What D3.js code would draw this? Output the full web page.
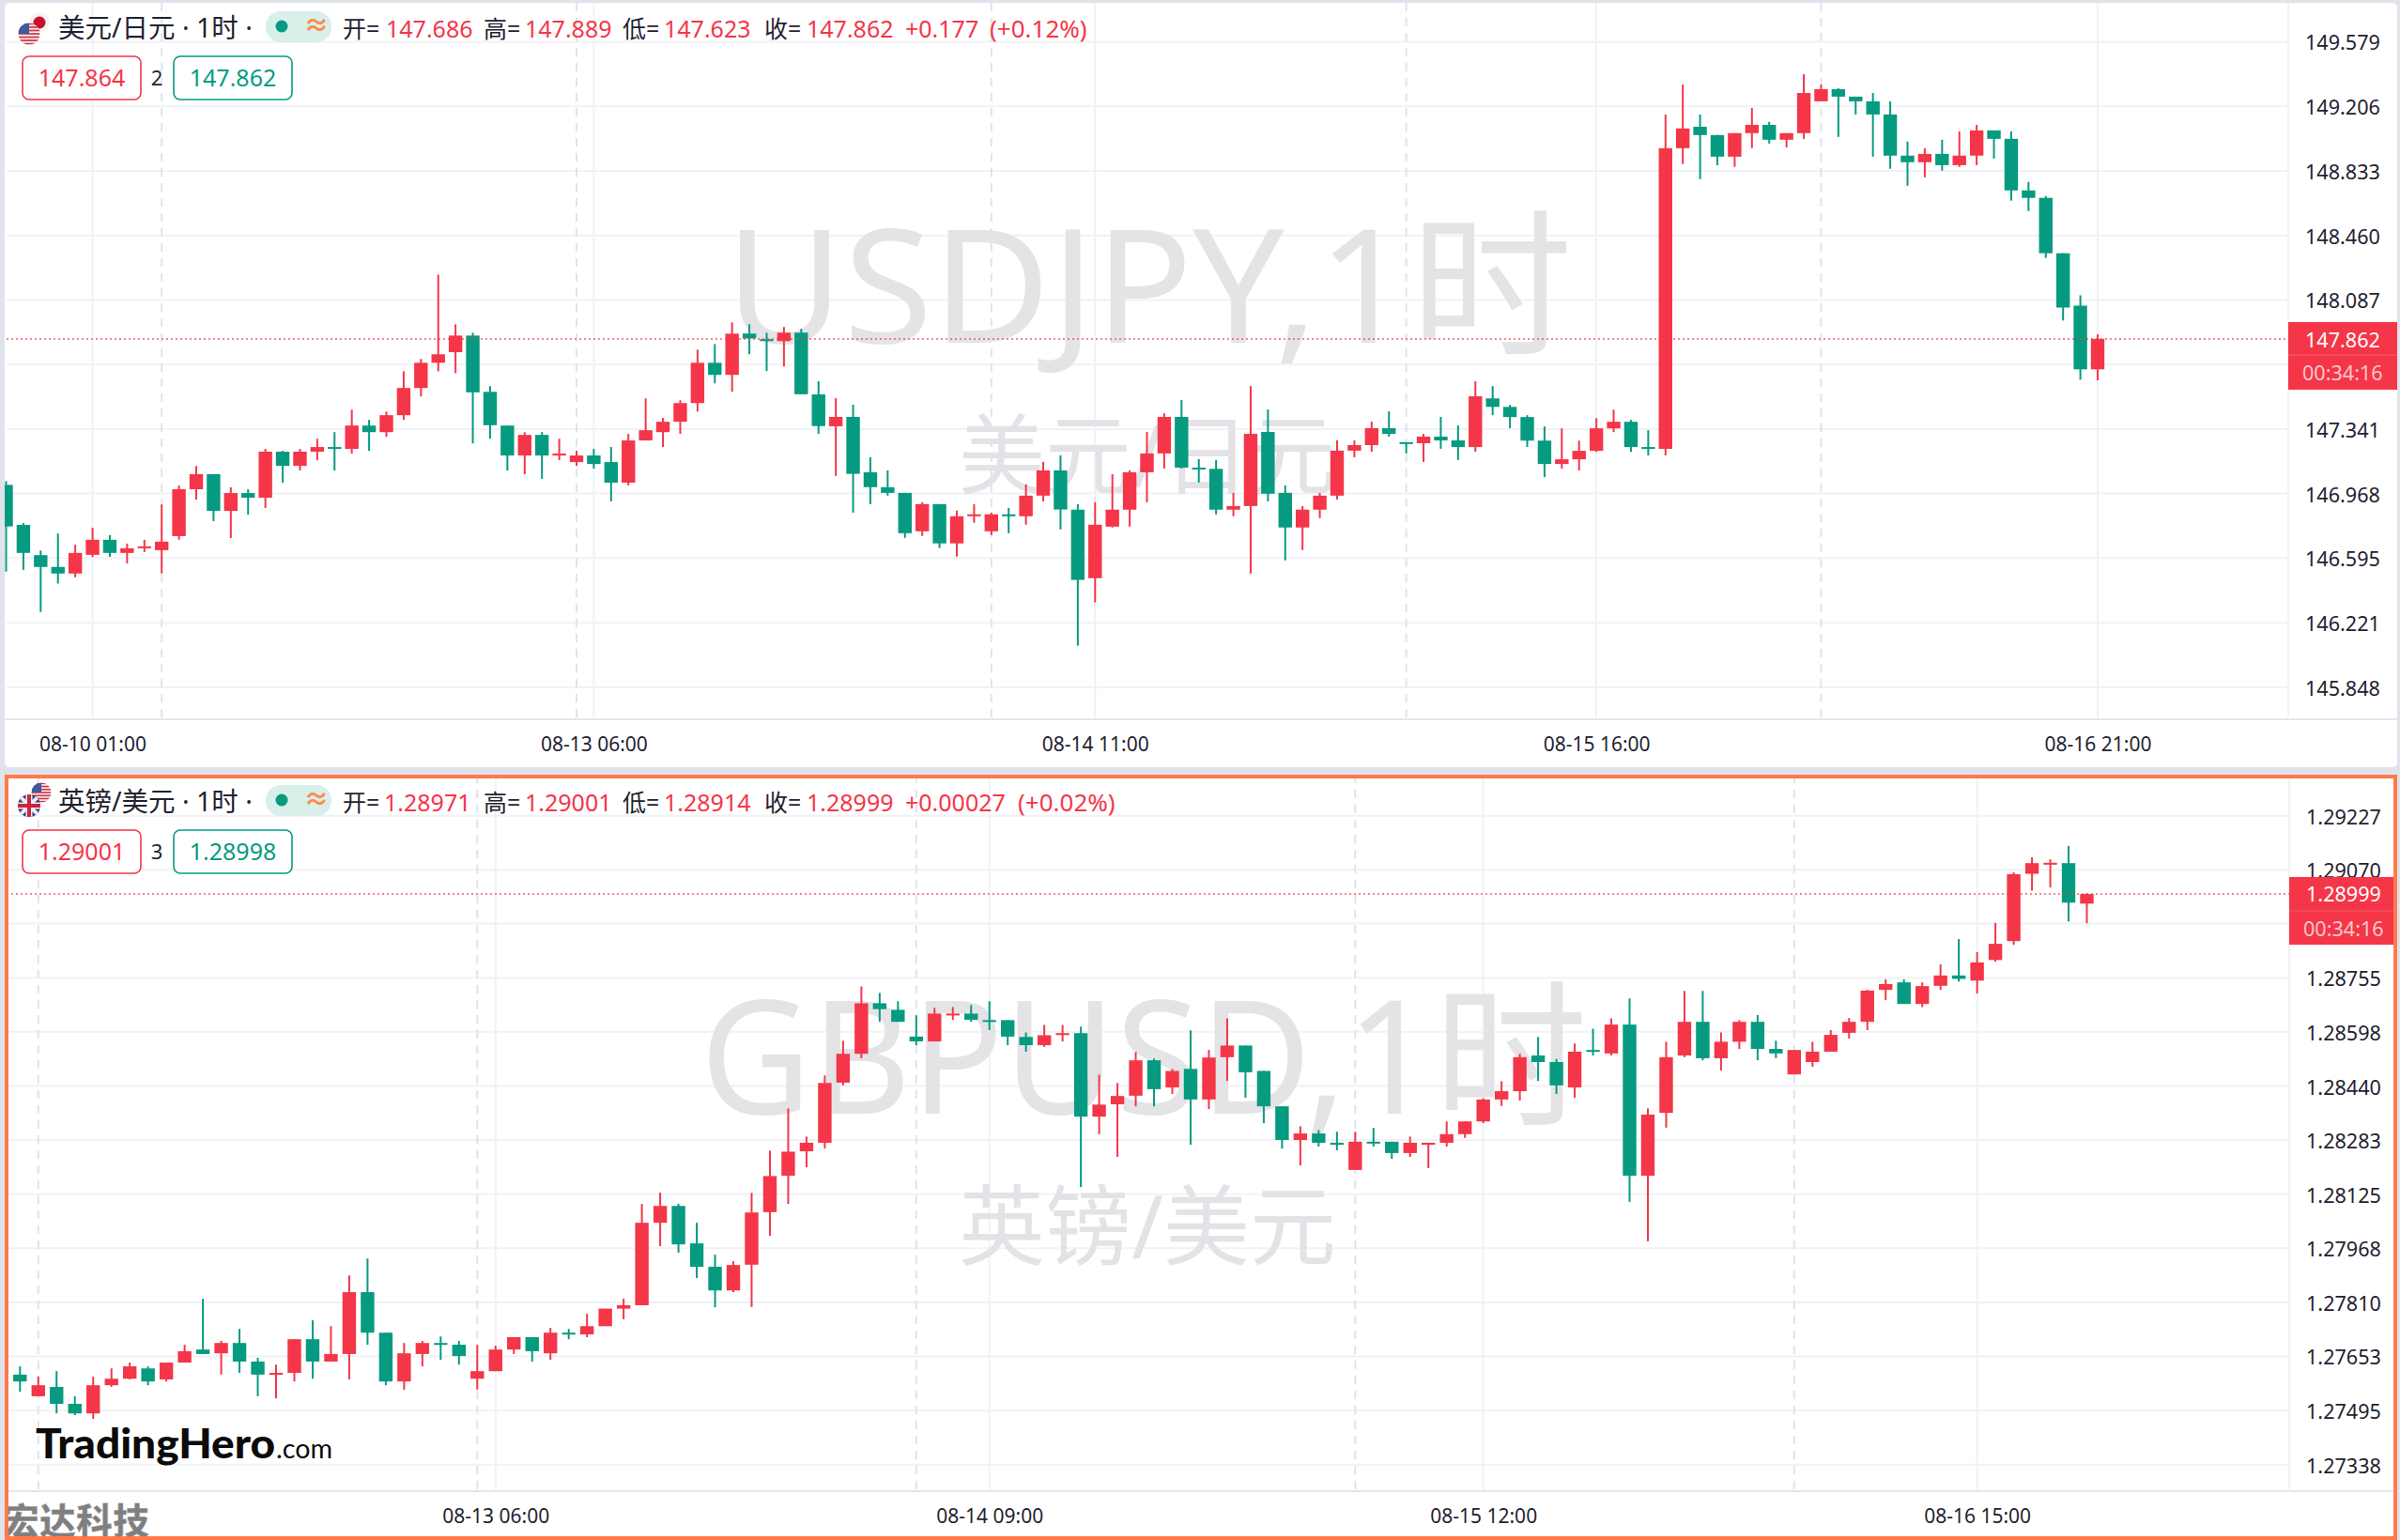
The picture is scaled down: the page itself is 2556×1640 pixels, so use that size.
<!DOCTYPE html>
<html><head><meta charset="utf-8">
<script src="https://cdn.jsdelivr.net/npm/d3@7/dist/d3.min.js"></script>
<style>
html,body{margin:0;padding:0;background:#e0e3eb;}
svg{display:block;font-family:"Noto Sans","Noto Sans CJK SC",sans-serif;}
.tick line,.domain{display:none;}
</style></head><body>
<svg id="c" width="2556" height="1640"></svg>
<script>
// ---------- USD/JPY, 1 hour ----------
const jpyOpen=[147.018,146.787,146.612,146.544,146.506,146.614,146.701,146.625,146.652,146.641,146.722,146.993,147.080,146.868,146.971,146.944,147.210,147.128,147.210,147.237,147.226,147.361,147.323,147.421,147.578,147.724,147.785,147.881,147.556,147.361,147.188,147.307,147.188,147.150,147.188,147.150,147.031,147.275,147.323,147.383,147.491,147.724,147.654,147.893,147.860,147.849,147.898,147.541,147.357,147.411,147.091,147.005,146.972,146.750,146.907,146.680,146.837,146.750,146.848,146.837,146.956,147.102,146.875,146.479,146.777,146.875,147.091,147.200,147.411,147.118,147.111,146.875,146.896,147.324,146.972,146.772,146.875,146.956,147.216,147.248,147.346,147.265,147.259,147.297,147.275,147.237,147.518,147.469,147.410,147.274,147.139,147.166,147.215,147.345,147.383,147.237,147.226,148.964,149.088,149.040,148.915,149.051,149.099,149.013,149.051,149.235,149.305,149.262,149.235,149.159,148.921,148.883,148.931,148.866,148.921,149.067,149.018,148.720,148.677,148.357,148.054,147.686];
const jpyHigh=[147.040,146.798,146.639,146.737,146.672,146.771,146.728,146.679,146.701,146.905,147.015,147.128,147.080,147.004,146.993,147.226,147.215,147.226,147.285,147.323,147.453,147.394,147.442,147.675,147.746,148.233,147.946,147.897,147.589,147.361,147.323,147.323,147.285,147.215,147.226,147.237,147.313,147.518,147.405,147.507,147.800,147.832,147.957,147.947,147.898,147.931,147.920,147.617,147.519,147.481,147.178,147.102,146.972,146.918,146.907,146.869,146.907,146.858,146.885,147.021,147.151,147.189,146.907,146.918,147.080,147.102,147.324,147.432,147.508,147.167,147.162,146.972,147.589,147.454,147.015,146.896,146.972,147.275,147.275,147.384,147.443,147.265,147.313,147.411,147.362,147.617,147.589,147.480,147.421,147.356,147.345,147.274,147.404,147.453,147.394,147.334,149.159,149.332,149.159,149.040,149.051,149.197,149.116,149.051,149.392,149.332,149.310,149.262,149.283,149.235,149.002,148.964,149.013,149.061,149.099,149.067,149.061,148.769,148.688,148.357,148.114,147.889];
const jpyLow=[146.517,146.527,146.284,146.448,146.484,146.601,146.603,146.565,146.630,146.506,146.701,146.933,146.809,146.711,146.847,146.885,147.031,147.101,147.161,147.101,147.199,147.215,147.296,147.394,147.529,147.675,147.664,147.258,147.285,147.101,147.080,147.053,147.161,147.128,147.112,146.923,147.015,147.275,147.237,147.313,147.442,147.605,147.556,147.774,147.676,147.703,147.542,147.313,147.070,146.858,146.907,146.956,146.712,146.723,146.653,146.604,146.799,146.728,146.739,146.788,146.923,146.761,146.089,146.339,146.772,146.777,146.918,147.113,147.113,147.032,146.848,146.837,146.506,146.923,146.582,146.642,146.826,146.934,147.178,147.210,147.297,147.200,147.151,147.227,147.162,147.210,147.421,147.345,147.237,147.063,147.112,147.101,147.209,147.323,147.209,147.188,147.188,148.872,148.785,148.866,148.856,148.964,148.991,148.969,149.018,149.235,149.029,149.159,148.915,148.845,148.747,148.796,148.834,148.856,148.866,148.904,148.661,148.601,148.330,147.968,147.626,147.623];
const jpyClose=[146.778,146.625,146.544,146.506,146.625,146.701,146.625,146.652,146.663,146.690,146.993,147.080,146.868,146.971,146.944,147.210,147.128,147.210,147.237,147.226,147.361,147.323,147.421,147.578,147.724,147.773,147.881,147.553,147.363,147.188,147.307,147.188,147.199,147.188,147.139,147.031,147.275,147.334,147.383,147.491,147.724,147.654,147.892,147.864,147.853,147.898,147.542,147.358,147.411,147.082,147.005,146.972,146.739,146.907,146.680,146.837,146.848,146.848,146.837,146.956,147.102,146.876,146.469,146.788,146.875,147.091,147.200,147.411,147.118,147.113,146.875,146.896,147.313,146.967,146.772,146.875,146.956,147.216,147.248,147.346,147.313,147.259,147.297,147.275,147.237,147.530,147.469,147.410,147.274,147.139,147.166,147.215,147.345,147.383,147.237,147.226,148.964,149.078,149.040,148.915,149.051,149.099,149.013,149.051,149.283,149.305,149.262,149.235,149.159,148.921,148.883,148.931,148.866,148.921,149.067,149.018,148.720,148.677,148.357,148.043,147.686,147.862];
const jpyPriceTicks=[149.579,149.206,148.833,148.460,148.087,147.714,147.341,146.968,146.595,146.221,145.848];
const jpyTimeIndex=[5,34,63,92,121];
const jpyTimeLabels=["08-10 01:00","08-13 06:00","08-14 11:00","08-15 16:00","08-16 21:00"];
const jpyDaySeparators=[9,33,57,81,105];
const jpyLastPrice=147.862;

// ---------- GBP/USD, 1 hour ----------
const gbpOpen=[1.27600,1.27537,1.27564,1.27515,1.27487,1.27569,1.27588,1.27618,1.27586,1.27635,1.27673,1.27662,1.27692,1.27638,1.27600,1.27605,1.27703,1.27638,1.27660,1.27840,1.27722,1.27580,1.27660,1.27692,1.27687,1.27588,1.27610,1.27673,1.27709,1.27662,1.27722,1.27717,1.27741,1.27792,1.27802,1.28042,1.28091,1.27982,1.27914,1.27845,1.27920,1.28073,1.28179,1.28250,1.28275,1.28450,1.28534,1.28681,1.28662,1.28584,1.28570,1.28647,1.28651,1.28632,1.28632,1.28583,1.28559,1.28589,1.28594,1.28351,1.28387,1.28412,1.28515,1.28436,1.28490,1.28401,1.28524,1.28558,1.28484,1.28381,1.28283,1.28302,1.28275,1.28196,1.28278,1.28278,1.28245,1.28269,1.28275,1.28300,1.28337,1.28401,1.28425,1.28529,1.28510,1.28436,1.28545,1.28535,1.28619,1.28179,1.28362,1.28529,1.28627,1.28521,1.28569,1.28627,1.28548,1.28474,1.28510,1.28540,1.28595,1.28627,1.28720,1.28742,1.28679,1.28732,1.28762,1.28747,1.28807,1.28862,1.29058,1.29088,1.29089,1.28971];
const gbpHigh=[1.27624,1.27594,1.27610,1.27537,1.27594,1.27618,1.27635,1.27624,1.27635,1.27687,1.27821,1.27698,1.27733,1.27649,1.27629,1.27703,1.27758,1.27741,1.27889,1.27938,1.27722,1.27692,1.27698,1.27711,1.27698,1.27687,1.27684,1.27709,1.27709,1.27736,1.27733,1.27777,1.27792,1.27821,1.28097,1.28130,1.28097,1.28042,1.27949,1.27930,1.28129,1.28252,1.28375,1.28293,1.28471,1.28572,1.28730,1.28711,1.28687,1.28646,1.28668,1.28670,1.28676,1.28687,1.28632,1.28596,1.28618,1.28618,1.28613,1.28473,1.28449,1.28539,1.28520,1.28490,1.28602,1.28545,1.28637,1.28558,1.28484,1.28381,1.28323,1.28312,1.28307,1.28307,1.28318,1.28278,1.28293,1.28275,1.28337,1.28337,1.28405,1.28454,1.28534,1.28583,1.28519,1.28564,1.28607,1.28637,1.28695,1.28375,1.28569,1.28717,1.28717,1.28596,1.28632,1.28647,1.28572,1.28545,1.28569,1.28603,1.28638,1.28720,1.28751,1.28751,1.28742,1.28794,1.28868,1.28830,1.28915,1.29062,1.29106,1.29100,1.29139,1.29001];
const gbpLow=[1.27550,1.27537,1.27487,1.27482,1.27471,1.27564,1.27586,1.27569,1.27580,1.27635,1.27660,1.27600,1.27605,1.27537,1.27531,1.27580,1.27588,1.27638,1.27586,1.27687,1.27569,1.27556,1.27624,1.27643,1.27629,1.27556,1.27610,1.27660,1.27638,1.27643,1.27703,1.27709,1.27741,1.27761,1.27802,1.27974,1.27955,1.27881,1.27796,1.27840,1.27797,1.28004,1.28097,1.28204,1.28258,1.28442,1.28521,1.28627,1.28627,1.28559,1.28570,1.28633,1.28627,1.28603,1.28559,1.28540,1.28554,1.28570,1.28146,1.28300,1.28234,1.28381,1.28381,1.28417,1.28269,1.28373,1.28455,1.28406,1.28332,1.28258,1.28209,1.28264,1.28253,1.28196,1.28264,1.28228,1.28234,1.28201,1.28264,1.28289,1.28332,1.28382,1.28398,1.28455,1.28417,1.28406,1.28529,1.28529,1.28103,1.27988,1.28319,1.28524,1.28515,1.28485,1.28548,1.28515,1.28521,1.28474,1.28496,1.28540,1.28578,1.28603,1.28690,1.28679,1.28670,1.28720,1.28744,1.28709,1.28802,1.28851,1.29009,1.29018,1.28919,1.28914];
const gbpClose=[1.27580,1.27569,1.27515,1.27487,1.27569,1.27588,1.27624,1.27580,1.27635,1.27668,1.27660,1.27692,1.27638,1.27600,1.27605,1.27703,1.27638,1.27660,1.27840,1.27722,1.27580,1.27662,1.27692,1.27687,1.27654,1.27610,1.27673,1.27709,1.27668,1.27722,1.27717,1.27741,1.27792,1.27802,1.28042,1.28091,1.27979,1.27914,1.27845,1.27919,1.28072,1.28178,1.28249,1.28275,1.28449,1.28534,1.28681,1.28664,1.28627,1.28570,1.28651,1.28651,1.28633,1.28628,1.28584,1.28559,1.28588,1.28594,1.28351,1.28386,1.28411,1.28515,1.28431,1.28484,1.28401,1.28523,1.28558,1.28480,1.28381,1.28283,1.28302,1.28275,1.28269,1.28278,1.28275,1.28245,1.28275,1.28275,1.28300,1.28337,1.28401,1.28425,1.28524,1.28510,1.28442,1.28540,1.28540,1.28619,1.28179,1.28357,1.28524,1.28627,1.28521,1.28569,1.28627,1.28548,1.28535,1.28545,1.28540,1.28589,1.28627,1.28718,1.28737,1.28679,1.28731,1.28762,1.28752,1.28800,1.28854,1.29057,1.29089,1.29090,1.28974,1.28999];
const gbpPriceTicks=[1.29227,1.29070,1.28913,1.28755,1.28598,1.28440,1.28283,1.28125,1.27968,1.27810,1.27653,1.27495,1.27338];
const gbpTimeIndex=[26,53,80,107];
const gbpTimeLabels=["08-13 06:00","08-14 09:00","08-15 12:00","08-16 15:00"];
const gbpDaySeparators=[1,25,49,73,97];
const gbpLastPrice=1.28999;

const RED="#f43648", GREEN="#069b80", INK="#1f2330";
const svg=d3.select("#c");
const defs=svg.append("defs");

function panel(o,id){
  const g=svg.append("g");
  const bars=o.open.map((v,i)=>({i,o:v,h:o.high[i],l:o.low[i],c:o.close[i]}));
  const x=d3.scaleLinear().domain([0,bars.length-1]).range(o.xRange);
  const y=d3.scaleLinear().domain(d3.extent(o.priceTicks)).range(o.yRange);
  g.append("rect").attr("x",o.box[0]).attr("y",o.box[1]).attr("width",o.box[2]).attr("height",o.box[3]).attr("fill","#fff").attr("rx",5);
  g.selectAll(".hg").data(o.priceTicks).join("line").attr("x1",o.box[0]+2).attr("x2",o.axisX)
    .attr("y1",d=>y(d)).attr("y2",d=>y(d)).attr("stroke","#f1f2f6").attr("stroke-width",2);
  g.selectAll(".vg").data(o.timeIndex).join("line").attr("x1",d=>x(d)).attr("x2",d=>x(d))
    .attr("y1",o.box[1]).attr("y2",o.timeY).attr("stroke","#f1f2f6").attr("stroke-width",2);
  g.selectAll(".dg").data(o.daySeps).join("line").attr("x1",d=>x(d)).attr("x2",d=>x(d))
    .attr("y1",o.box[1]).attr("y2",o.timeY).attr("stroke","#e1e3ec").attr("stroke-width",2).attr("stroke-dasharray","9 7");
  g.append("text").text(o.mark1).attr("x",o.mark1x).attr("y",o.mark1y).attr("text-anchor","middle")
    .attr("font-size",168).attr("fill","#e4e4e7").attr("textLength",o.mark1w).attr("lengthAdjust","spacingAndGlyphs");
  g.append("text").text(o.mark2).attr("x",1222).attr("y",o.mark2y).attr("text-anchor","middle")
    .attr("font-size",93).attr("fill","#e3e3e7").attr("textLength",402).attr("lengthAdjust","spacingAndGlyphs");
  g.append("line").attr("x1",o.box[0]).attr("x2",o.box[0]+o.box[2]).attr("y1",o.timeY).attr("y2",o.timeY).attr("stroke","#e4e6ed").attr("stroke-width",2);
  g.append("line").attr("x1",o.axisX).attr("x2",o.axisX).attr("y1",o.box[1]).attr("y2",o.timeY).attr("stroke","#f1f2f6").attr("stroke-width",2);
  defs.append("clipPath").attr("id",id).append("rect").attr("x",o.box[0]).attr("y",o.box[1]).attr("width",o.axisX-o.box[0]).attr("height",o.timeY-o.box[1]);
  const col=d=>d.c>=d.o?RED:GREEN;
  const cg=g.append("g").attr("clip-path",`url(#${id})`);
  cg.selectAll(".w").data(bars).join("line").attr("x1",d=>x(d.i)).attr("x2",d=>x(d.i))
    .attr("y1",d=>y(d.h)).attr("y2",d=>y(d.l)).attr("stroke",col).attr("stroke-width",2);
  cg.selectAll(".b").data(bars).join("rect").attr("x",d=>x(d.i)-7.2).attr("width",14.4)
    .attr("y",d=>y(Math.max(d.o,d.c))).attr("height",d=>Math.max(2,Math.abs(y(d.o)-y(d.c)))).attr("fill",col);
  g.append("line").attr("x1",o.box[0]+2).attr("x2",o.axisX).attr("y1",y(o.last)).attr("y2",y(o.last))
    .attr("stroke",RED).attr("stroke-opacity",.6).attr("stroke-width",2).attr("stroke-dasharray","2 3");
  const ya=d3.axisRight(y).tickValues(o.priceTicks).tickFormat(d3.format(o.fmt)).tickSize(0).tickPadding(0);
  const yg=g.append("g").attr("transform",`translate(${o.axisX+18},1.5)`).call(ya);
  yg.selectAll("text").attr("font-size",21.6).attr("fill",INK).attr("font-family",'"Noto Sans",sans-serif');
  const xa=d3.axisBottom(x).tickValues(o.timeIndex).tickFormat((d,i)=>o.timeLabels[i]).tickSize(0).tickPadding(0);
  const xg=g.append("g").attr("transform",`translate(0,${o.timeY+19})`).call(xa);
  xg.selectAll("text").attr("font-size",21).attr("fill",INK).attr("font-family",'"Noto Sans",sans-serif');
  const t=o.tag;
  g.append("rect").attr("x",o.axisX).attr("y",t[0]).attr("width",t[2]).attr("height",t[1]-t[0]).attr("fill",RED);
  g.append("line").attr("x1",o.axisX).attr("x2",o.axisX+t[2]).attr("y1",t[3]).attr("y2",t[3]).attr("stroke","#fff").attr("stroke-opacity",.2);
  g.append("text").text(d3.format(o.fmt)(o.last)).attr("x",o.axisX+18).attr("y",t[4]).attr("font-size",21.6).attr("fill","#fff");
  g.append("text").text("00:34:16").attr("x",o.axisX+15).attr("y",(t[1]+t[3])/2+8.5).attr("font-size",21.6).attr("fill","#fff").attr("fill-opacity",.72);
  const dy=o.dy, tx=(s,xx,c,fs)=>g.append("text").text(s).attr("x",xx).attr("y",40+dy).attr("fill",c).attr("font-size",fs||25);
  tx(o.title,62,INK,28.5);
  g.append("rect").attr("x",283).attr("y",12+dy).attr("width",70).attr("height",33).attr("rx",16).attr("fill","#d8efea");
  g.append("circle").attr("cx",300).attr("cy",28+dy).attr("r",6.5).attr("fill",GREEN);
  g.append("text").text("≈").attr("x",337).attr("y",37+dy).attr("text-anchor","middle").attr("font-size",27).attr("font-weight",700).attr("fill","#ff8a4c");
  o.legend.forEach(l=>{tx(l[0],l[1],INK);tx(l[2],l[3],RED);});
  tx(o.chg,964,RED); tx(o.pct,o.pctX,RED,26);
  const box=(s,xx,c)=>{
    g.append("rect").attr("x",xx).attr("y",60+dy).attr("width",126).attr("height",46).attr("rx",7).attr("fill","#fff").attr("stroke",c).attr("stroke-width",1.6);
    g.append("text").text(s).attr("x",xx+63).attr("y",92+dy).attr("text-anchor","middle").attr("font-size",25).attr("fill",c);
  };
  box(o.bid,24,RED); box(o.ask,185,GREEN);
  g.append("text").text(o.spread).attr("x",167).attr("y",91+dy).attr("text-anchor","middle").attr("font-size",22).attr("fill",INK);
  return g;
}

panel({open:jpyOpen,high:jpyHigh,low:jpyLow,close:jpyClose,priceTicks:jpyPriceTicks,timeIndex:jpyTimeIndex,timeLabels:jpyTimeLabels,daySeps:jpyDaySeparators,last:jpyLastPrice,
  xRange:[6.5,2234],yRange:[732,44.5],box:[5,3,2548,814],axisX:2437,timeY:766,fmt:".3f",
  mark1:"USDJPY,1时",mark1x:1223.5,mark1y:365,mark1w:902,mark2:"美元/日元",mark2y:519,tag:[343,415,116,378,370],dy:0,
  title:"美元/日元 · 1时 ·",legend:[["开=",365,"147.686",411],["高=",515,"147.889",559],["低=",663,"147.623",707],["收=",814,"147.862",859]],
  chg:"+0.177",pct:"(+0.12%)",pctX:1054,bid:"147.864",ask:"147.862",spread:"2"},"clipTop");

panel({open:gbpOpen,high:gbpHigh,low:gbpLow,close:gbpClose,priceTicks:gbpPriceTicks,timeIndex:gbpTimeIndex,timeLabels:gbpTimeLabels,daySeps:gbpDaySeparators,last:gbpLastPrice,
  xRange:[21.3,2222.5],yRange:[1559.7,868.7],box:[5,825,2548,815],axisX:2438,timeY:1588,fmt:".5f",
  mark1:"GBPUSD,1时",mark1x:1218,mark1y:1186,mark1w:945,mark2:"英镑/美元",mark2y:1340,tag:[934,1006,111,970,960],dy:824,
  title:"英镑/美元 · 1时 ·",legend:[["开=",365,"1.28971",409],["高=",515,"1.29001",559],["低=",663,"1.28914",707],["收=",814,"1.28999",859]],
  chg:"+0.00027",pct:"(+0.02%)",pctX:1084,bid:"1.29001",ask:"1.28998",spread:"3"},"clipBottom");

function clip(id,cx,cy,r){defs.append("clipPath").attr("id",id).append("circle").attr("cx",cx).attr("cy",cy).attr("r",r);}
function usFlag(cx,cy,r,id){
  clip(id,cx,cy,r);
  const f=svg.append("g").attr("clip-path",`url(#${id})`);
  f.append("rect").attr("x",cx-r).attr("y",cy-r).attr("width",2*r).attr("height",2*r).attr("fill","#f0f0f0");
  d3.range(0,7).forEach(k=>f.append("rect").attr("x",cx-r).attr("y",cy-r+k*2*r/6.5).attr("width",2*r).attr("height",r/6.5).attr("fill","#d8344a"));
  f.append("rect").attr("x",cx-r).attr("y",cy-r).attr("width",r).attr("height",r).attr("fill","#3f5a9e");
}
function jpFlag(cx,cy,r){
  svg.append("circle").attr("cx",cx).attr("cy",cy).attr("r",r).attr("fill","#f2f2f2");
  svg.append("circle").attr("cx",cx).attr("cy",cy).attr("r",r*.62).attr("fill","#c8102e");
}
function ukFlag(cx,cy,r,id){
  clip(id,cx,cy,r);
  const f=svg.append("g").attr("clip-path",`url(#${id})`);
  f.append("rect").attr("x",cx-r).attr("y",cy-r).attr("width",2*r).attr("height",2*r).attr("fill","#2a3f7e");
  [[-1,-1,1,1],[-1,1,1,-1]].forEach(p=>f.append("line").attr("x1",cx+p[0]*r).attr("y1",cy+p[1]*r).attr("x2",cx+p[2]*r).attr("y2",cy+p[3]*r).attr("stroke","#eee").attr("stroke-width",4));
  f.append("rect").attr("x",cx-r).attr("y",cy-3.5).attr("width",2*r).attr("height",7).attr("fill","#eee");
  f.append("rect").attr("x",cx-3.5).attr("y",cy-r).attr("width",7).attr("height",2*r).attr("fill","#eee");
  f.append("rect").attr("x",cx-r).attr("y",cy-2).attr("width",2*r).attr("height",4).attr("fill","#d0213c");
  f.append("rect").attr("x",cx-2).attr("y",cy-r).attr("width",4).attr("height",2*r).attr("fill","#d0213c");
}
jpFlag(42,24,10.5);
usFlag(31,36,11.5,"us1");
usFlag(44,844,10.5,"us2");
ukFlag(31,858,12,"uk");

svg.append("text").text("TradingHero").attr("x",38).attr("y",1553).attr("font-family","Lato").attr("font-weight",900).attr("font-size",43).attr("fill","#0b0b0b").attr("textLength",255).attr("lengthAdjust","spacingAndGlyphs");
svg.append("text").text(".com").attr("x",294).attr("y",1553).attr("font-family","Lato").attr("font-size",29).attr("fill","#0b0b0b").attr("textLength",60).attr("lengthAdjust","spacingAndGlyphs");
svg.append("text").text("宏达科技").attr("x",3).attr("y",1634).attr("font-family",'"Noto Sans CJK SC"').attr("font-weight",900).attr("font-size",39).attr("fill","#7f7f7f").attr("stroke","#fff").attr("stroke-opacity",.4).attr("stroke-width",1);
svg.append("rect").attr("x",7).attr("y",827).attr("width",2544).attr("height",811).attr("fill","none").attr("stroke","#ff7a4a").attr("stroke-width",4);
</script>
</body></html>
